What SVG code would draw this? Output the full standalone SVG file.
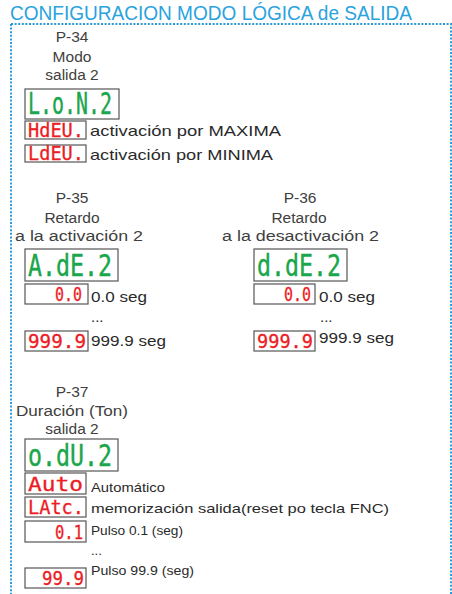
<svg xmlns="http://www.w3.org/2000/svg" width="452" height="594" viewBox="0 0 452 594">
<style>
.title{font-family:"Liberation Sans",Arial,sans-serif;font-size:20px;fill:#2aa3de}
.hd{font-family:"Liberation Sans",Arial,sans-serif;font-size:15.5px;fill:#404040;text-anchor:middle}
.hds{font-family:"Liberation Sans",Arial,sans-serif;font-size:15.5px;fill:#404040}
.desc{font-family:"Liberation Sans",Arial,sans-serif;font-size:15px;fill:#2a2a2a}
.sm{font-family:"Liberation Sans",Arial,sans-serif;font-size:13px;fill:#2a2a2a}
.box{fill:#fff;stroke:#555;stroke-width:1.2}
.g{font-family:"DejaVu Sans Mono",monospace;font-size:30px;fill:#1aa64b;stroke:#1aa64b;stroke-width:0.4}
.r{font-family:"DejaVu Sans Mono",monospace;font-size:19px;fill:#ec1c24;stroke:#ec1c24;stroke-width:0.3}
.frame{fill:none;stroke:#2a9ad8;stroke-width:2;stroke-dasharray:2 1.6}
</style>
<g id="frame">
<text class="title" x="10" y="20" textLength="402" lengthAdjust="spacingAndGlyphs">CONFIGURACION MODO LÓGICA de SALIDA</text>
<path class="frame" d="M11,24 H451 V594 M11,24 V594"/>
</g>
<g id="p34">
<text class="hd" x="72" y="42">P-34</text>
<text class="hd" x="72" y="62">Modo</text>
<text class="hd" x="72" y="80">salida 2</text>
<rect class="box" x="25" y="89" width="94" height="30"/>
<text class="g" x="28" y="114" textLength="84" lengthAdjust="spacingAndGlyphs">L.o.N.2</text>
</g>
<g id="p34-max">
<rect class="box" x="25" y="121" width="61" height="18"/>
<text class="r" x="28" y="137" textLength="56" lengthAdjust="spacingAndGlyphs">HdEU.</text>
<text class="desc" x="90" y="136" textLength="191" lengthAdjust="spacingAndGlyphs">activación por MAXIMA</text>
</g>
<g id="p34-min">
<rect class="box" x="25" y="145" width="61" height="17"/>
<text class="r" x="28" y="160" textLength="56" lengthAdjust="spacingAndGlyphs">LdEU.</text>
<text class="desc" x="90" y="160" textLength="183" lengthAdjust="spacingAndGlyphs">activación por MINIMA</text>
</g>
<g id="p35">
<text class="hd" x="72" y="203">P-35</text>
<text class="hd" x="72" y="223">Retardo</text>
<text class="hds" x="15" y="241" textLength="128" lengthAdjust="spacingAndGlyphs">a la activación 2</text>
<rect class="box" x="25" y="249" width="93" height="32"/>
<text class="g" x="28" y="276" textLength="84" lengthAdjust="spacingAndGlyphs">A.dE.2</text>
</g>
<g id="p35-min">
<rect class="box" x="25" y="284" width="63" height="20"/>
<text class="r" x="55" y="301" textLength="27" lengthAdjust="spacingAndGlyphs">0.0</text>
<text class="desc" x="91" y="302" textLength="56" lengthAdjust="spacingAndGlyphs">0.0 seg</text>
<text class="desc" x="91" y="322">...</text>
</g>
<g id="p35-max">
<rect class="box" x="25" y="331" width="63" height="20"/>
<text class="r" x="28" y="348" textLength="58" lengthAdjust="spacingAndGlyphs">999.9</text>
<text class="desc" x="91" y="346" textLength="75" lengthAdjust="spacingAndGlyphs">999.9 seg</text>
</g>
<g id="p36">
<text class="hd" x="300" y="203">P-36</text>
<text class="hd" x="299" y="223">Retardo</text>
<text class="hds" x="222" y="241" textLength="157" lengthAdjust="spacingAndGlyphs">a la desactivación 2</text>
<rect class="box" x="254" y="249" width="93" height="32"/>
<text class="g" x="257" y="276" textLength="84" lengthAdjust="spacingAndGlyphs">d.dE.2</text>
</g>
<g id="p36-min">
<rect class="box" x="254" y="284" width="61" height="20"/>
<text class="r" x="284" y="301" textLength="27" lengthAdjust="spacingAndGlyphs">0.0</text>
<text class="desc" x="319" y="302" textLength="56" lengthAdjust="spacingAndGlyphs">0.0 seg</text>
<text class="desc" x="320" y="322">...</text>
</g>
<g id="p36-max">
<rect class="box" x="254" y="331" width="61" height="20"/>
<text class="r" x="257" y="348" textLength="56" lengthAdjust="spacingAndGlyphs">999.9</text>
<text class="desc" x="319" y="343" textLength="75" lengthAdjust="spacingAndGlyphs">999.9 seg</text>
</g>
<g id="p37">
<text class="hd" x="72" y="397">P-37</text>
<text class="hds" x="16" y="416" textLength="112" lengthAdjust="spacingAndGlyphs">Duración (Ton)</text>
<text class="hd" x="72" y="434">salida 2</text>
<rect class="box" x="25" y="439" width="93" height="32"/>
<text class="g" x="28" y="466" textLength="84" lengthAdjust="spacingAndGlyphs">o.dU.2</text>
</g>
<g id="p37-auto">
<rect class="box" x="25" y="473" width="61" height="21"/>
<text class="r" x="28" y="491" textLength="55" lengthAdjust="spacingAndGlyphs">Auto</text>
<text class="sm" x="91" y="492" textLength="74" lengthAdjust="spacingAndGlyphs">Automático</text>
</g>
<g id="p37-latc">
<rect class="box" x="25" y="497" width="61" height="20"/>
<text class="r" x="28" y="514" textLength="56" lengthAdjust="spacingAndGlyphs">LAtc.</text>
<text class="sm" x="91" y="513" textLength="298" lengthAdjust="spacingAndGlyphs">memorización salida(reset po tecla FNC)</text>
</g>
<g id="p37-01">
<rect class="box" x="25" y="521" width="61" height="21"/>
<text class="r" x="55" y="539" textLength="28" lengthAdjust="spacingAndGlyphs">0.1</text>
<text class="sm" x="91" y="535" textLength="92" lengthAdjust="spacingAndGlyphs">Pulso 0.1 (seg)</text>
<text class="sm" x="91" y="555">...</text>
</g>
<g id="p37-999">
<rect class="box" x="25" y="568" width="61" height="20"/>
<text class="r" x="42" y="585" textLength="42" lengthAdjust="spacingAndGlyphs">99.9</text>
<text class="sm" x="91" y="575" textLength="103" lengthAdjust="spacingAndGlyphs">Pulso 99.9  (seg)</text>
</g>
</svg>
